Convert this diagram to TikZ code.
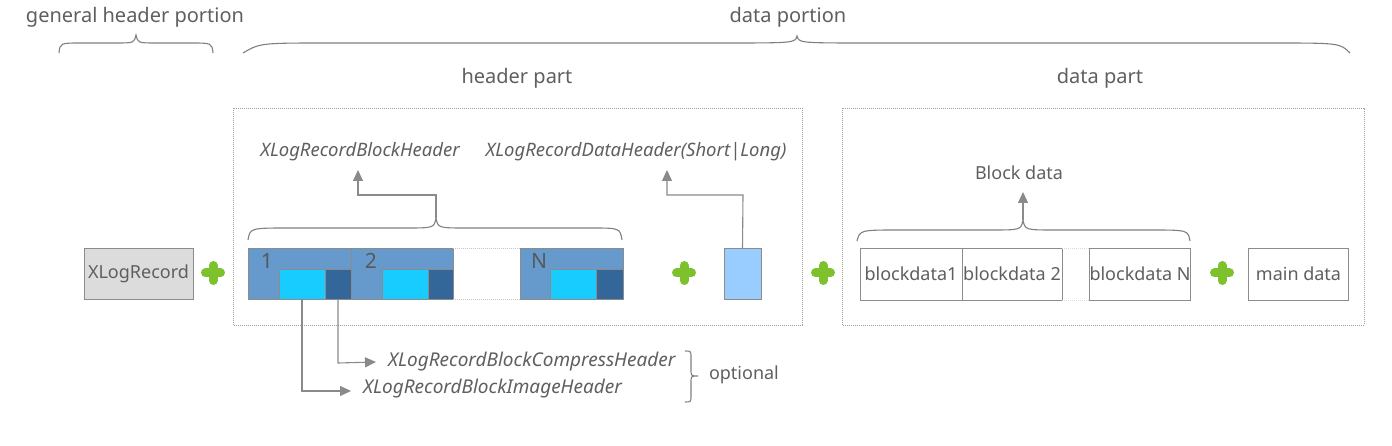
\documentclass[tikz,border=0pt]{standalone}
\usepackage{fontspec}
\setmainfont{Noto Sans}
\usetikzlibrary{arrows.meta}
\definecolor{txt}{HTML}{5F5F5F}
\definecolor{brcgray}{HTML}{808080}
\definecolor{conngray}{HTML}{8A8A8A}
\definecolor{blockblue}{HTML}{6699CC}
\definecolor{cyanblk}{HTML}{19CCFF}
\definecolor{darkblk}{HTML}{336699}
\definecolor{lightrect}{HTML}{99CCFF}
\definecolor{boxgray}{HTML}{DCDCDC}
\definecolor{bordgray}{HTML}{8C8C8C}
\definecolor{plusgreen}{HTML}{7DC22C}
\definecolor{dotgray}{HTML}{A0A0A0}
\tikzset{
  plussign/.pic={\draw[line width=9pt, plusgreen, line cap=round] (-7.5,0) -- (7.5,0) (0,-7.5) -- (0,7.5);}
}
\begin{document}
\begin{tikzpicture}[x=1pt,y=-1pt,
  every node/.style={text=txt, inner sep=0pt, outer sep=0pt},
  lbl/.style={font=\fontsize{20}{24}\selectfont},
  mid/.style={font=\fontsize{18}{22}\selectfont},
  ital/.style={font=\fontsize{18.5}{22}\selectfont\itshape},
  italb/.style={font=\fontsize{19}{22}\selectfont\itshape},
  brc/.style={draw=brcgray, line width=1.1pt},
  conn/.style={draw=conngray, line width=1.1pt},
  arr/.style={conn, -{Triangle[length=11pt,width=10pt]}},
  dotbox/.style={draw=dotgray, dash pattern=on 0.8pt off 1.2pt, line width=0.8pt},
  blk/.style={draw=bordgray, fill=blockblue, line width=0.8pt},
  inl/.style={draw=bordgray, fill=cyanblk, line width=0.8pt},
  ind/.style={draw=bordgray, fill=darkblk, line width=0.8pt},
  wbox/.style={draw=bordgray, fill=white, line width=0.9pt},
  num/.style={font=\fontsize{21}{24}\selectfont, text=black!65}
]
\useasboundingbox (0,0) rectangle (1392,446);

% top labels
\node[lbl] (ghp) at (135,17) {general header portion};
\node[lbl] (dp) at (788,17) {data portion};
\node[lbl] (hp) at (517,78) {header part};
\node[lbl] (dpart) at (1100,78) {data part};

% top braces
\draw[brc] (59,53) .. controls (60,43) .. (82,43) -- (116,43) .. controls (134,43) .. (136,35)
  .. controls (138,43) .. (156,43) -- (190,43) .. controls (212,43) .. (213,53);
\draw[brc] (243,53) .. controls (260,43) .. (330,43) -- (720,43) .. controls (795,43) .. (797,36)
  .. controls (799,43) .. (870,43) -- (1270,43) .. controls (1340,43) .. (1350,53);

% dotted frames
\draw[dotbox] (233,108) rectangle (802,325);
\draw[dotbox] (842,108) rectangle (1364,325);

% general header
\node[draw=bordgray, fill=boxgray, line width=0.9pt, minimum width=109pt, minimum height=51pt, mid] (xlr) at (138.5,273.5) {XLogRecord};
\pic at (213,273) {plussign};

% blocks
\node[blk, minimum width=103pt, minimum height=51pt] (b1) at (299.5,273.5) {};
\node[blk, minimum width=102pt, minimum height=51pt] (b2) at (402,273.5) {};
\node[blk, minimum width=103pt, minimum height=51pt] (bN) at (571.5,273.5) {};
\node[inl, minimum width=46pt, minimum height=30pt] (c1) at (302,284) {};
\node[ind, minimum width=26pt, minimum height=30pt] (d1) at (338,284) {};
\node[inl, minimum width=46pt, minimum height=30pt] (c2) at (405,284) {};
\node[ind, minimum width=25pt, minimum height=30pt] (d2) at (440.5,284) {};
\node[inl, minimum width=46pt, minimum height=30pt] (cN) at (573,284) {};
\node[ind, minimum width=27pt, minimum height=30pt] (dN) at (609.5,284) {};
\node[num] (n1) at (267,261) {1};
\node[num] (n2) at (371,261) {2};
\node[num] (nN) at (539,261) {N};
\draw[dotgray!60, dash pattern=on 0.8pt off 1.2pt, line width=0.8pt] (b2.north east) -- (bN.north west) (b2.south east) -- (bN.south west);

\pic at (684,273) {plussign};
\node[draw=bordgray, fill=lightrect, line width=0.9pt, minimum width=37pt, minimum height=51pt] (dh) at (742.5,273.5) {};
\pic at (823,273) {plussign};

% block header brace and arrows
\draw[brc] (248,240) .. controls (250,228) .. (290,228) -- (405,228) .. controls (434,228) .. (436,218)
  .. controls (438,228) .. (467,228) -- (590,228) .. controls (620,228) .. (622,240);
\coordinate (bt) at (436,218);
\node[ital] (bhdr) at (360,152) {XLogRecordBlockHeader};
\node[ital] (dhdr) at (636,152) {XLogRecordDataHeader(Short|Long)};
\draw[arr] (bt) -- (436,195) -- (358,195) -- (358,170);
\draw[arr] (dh.north) -- (743,195) -- (667,195) -- (667,170);

% lower headers
\node[italb, anchor=west] (cmp) at (388,362) {XLogRecordBlockCompressHeader};
\node[italb, anchor=west] (img) at (363,389) {XLogRecordBlockImageHeader};
\draw[arr] (d1.south) -- (338,363) -- ([xshift=-12pt]cmp.west);
\draw[arr] (c1.south) -- (302,391) -- ([xshift=-12pt,yshift=-2pt]img.west);
\draw[brc] (685,351) .. controls (691,351) .. (691,358) -- (691,369) .. controls (691,376) .. (698,376)
  .. controls (691,376) .. (691,383) -- (691,395) .. controls (691,402) .. (685,402);
\node[mid, anchor=west] (opt) at (709,375) {optional};

% data part
\node[wbox, minimum width=102pt, minimum height=52pt, mid] (bd1) at (911,274) {blockdata1};
\node[wbox, minimum width=100pt, minimum height=52pt, mid] (bd2) at (1012,274) {blockdata 2};
\node[wbox, minimum width=100pt, minimum height=52pt, mid] (bdN) at (1140,274) {blockdata N};
\draw[dotgray!40, dash pattern=on 0.8pt off 1.2pt, line width=0.8pt] (bd2.north east) -- (bdN.north west) (bd2.south east) -- (bdN.south west);
\pic at (1222,273) {plussign};
\node[wbox, minimum width=100pt, minimum height=52pt, mid] (md) at (1298.5,274) {main data};

\draw[brc] (857,241) .. controls (860,230) .. (900,230) -- (990,230) .. controls (1021,230) .. (1023,220)
  .. controls (1025,230) .. (1056,230) -- (1150,230) .. controls (1188,230) .. (1190,241);
\coordinate (bdt) at (1023,220);
\node[mid] (bdl) at (1019,173) {Block data};
\draw[arr] (bdt) -- (1023,192);
\end{tikzpicture}
\end{document}
